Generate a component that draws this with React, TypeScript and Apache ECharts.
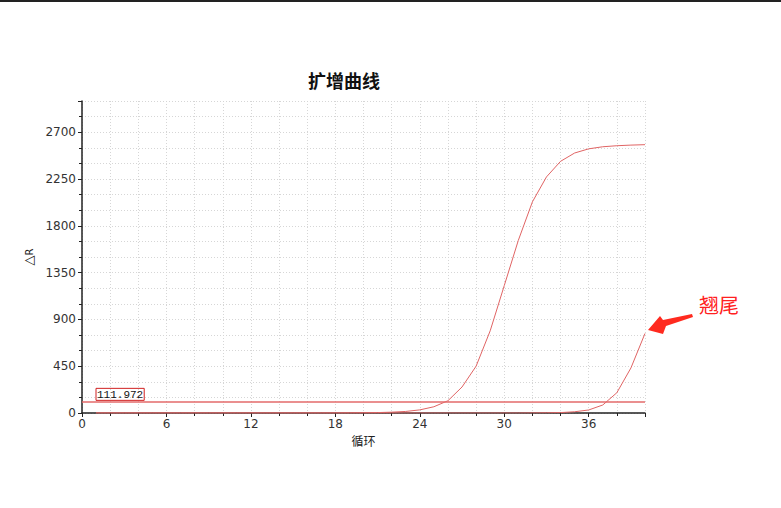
import { useEffect, useRef } from "react";
import * as echarts from "echarts";

const cycles = Array.from({ length: 40 }, (_, i) => i + 1);

const sampleA = [
  0, 0, 0, 0, 0, 0, 0, 0, 0, 0, 0, 0, 0, 0, 0, 0, 0, 0, 1, 2,
  4, 8, 15, 30, 60, 118, 250, 450, 790, 1225, 1660, 2030, 2270, 2420, 2500, 2540, 2560, 2570, 2576, 2580,
];

const sampleB = [
  0, 0, 0, 0, 0, 0, 0, 0, 0, 0, 0, 0, 0, 0, 0, 0, 0, 0, 0, 0,
  0, 0, 0, 0, 0, 0, 0, 0, 0, 0, 0, 1, 2, 4, 12, 29, 77, 195, 433, 765,
];

const threshold = 111.972;

const X_MAX = 40;
const Y_MAX = 3000;

const CURVE = "#e06464";

export default function App() {
  const chartRef = useRef<HTMLDivElement>(null);

  useEffect(() => {
    document.body.style.margin = "0";
    if (!chartRef.current) return;
    const chart = echarts.init(chartRef.current, undefined, { renderer: "svg" });

    const grid = { color: "#d6d6d6", type: [1, 2] as number[], width: 1 };

    chart.setOption({
      animation: false,
      backgroundColor: "#fff",
      title: {
        text: "扩增曲线",
        left: 303,
        top: 66,
        textStyle: {
          fontFamily: "Noto Sans CJK SC",
          fontSize: 18,
          fontWeight: "bold",
          color: "#111",
        },
      },
      grid: { left: 82, right: 136, top: 101, bottom: 95 },
      xAxis: {
        type: "value",
        min: 0,
        max: X_MAX,
        interval: 6,
        name: "循环",
        nameLocation: "middle",
        nameGap: 19,
        nameTextStyle: { fontFamily: "Noto Sans CJK SC", fontSize: 12, color: "#222" },
        axisLine: { lineStyle: { color: "#222", width: 1.5 } },
        axisTick: { length: 4, lineStyle: { color: "#222" } },
        minorTick: { show: true, splitNumber: 3, length: 3, lineStyle: { color: "#222" } },
        axisLabel: {
          color: "#333",
          fontSize: 12,
          fontFamily: "DejaVu Sans",
          showMaxLabel: false,
          margin: 5,
          formatter: (v: number) => String(v),
        },
        splitLine: { show: true, lineStyle: grid },
        minorSplitLine: { show: true, lineStyle: grid },
      },
      yAxis: {
        type: "value",
        min: 0,
        max: Y_MAX,
        interval: 450,
        name: "{a|△}{b|R}",
        nameLocation: "middle",
        nameGap: 36,
        nameTextStyle: {
          rich: {
            a: { fontFamily: "DejaVu Sans", fontSize: 13, color: "#222" },
            b: { fontFamily: "DejaVu Sans", fontSize: 10, color: "#222", verticalAlign: "bottom" },
          },
        },
        axisLine: { show: true, lineStyle: { color: "#222", width: 1.5 } },
        axisTick: { show: true, length: 4, lineStyle: { color: "#222" } },
        minorTick: { show: true, splitNumber: 3, length: 3, lineStyle: { color: "#222" } },
        axisLabel: {
          color: "#333",
          fontSize: 12,
          fontFamily: "DejaVu Sans",
          showMaxLabel: false,
          margin: 6,
          formatter: (v: number) => String(v),
        },
        splitLine: { show: true, lineStyle: grid },
        minorSplitLine: { show: true, lineStyle: grid },
      },
      series: [
        {
          name: "A",
          type: "line",
          data: cycles.map((c, i) => [c, sampleA[i]]),
          showSymbol: false,
          lineStyle: { color: CURVE, width: 1 },
          itemStyle: { color: CURVE },
          markLine: {
            symbol: "none",
            silent: true,
            data: [{ yAxis: threshold }],
            lineStyle: { color: "#e36a6a", width: 1.5, type: "solid" },
            label: {
              show: true,
              position: "insideStartTop",
              formatter: String(threshold),
              fontFamily: "Liberation Mono",
              fontSize: 11,
              color: "#111",
              borderColor: "#d02020",
              borderWidth: 1,
              padding: [1, 1, 0, 1],
              distance: [14, 1],
            },
          },
        },
        {
          name: "B",
          type: "line",
          data: cycles.map((c, i) => [c, sampleB[i]]),
          showSymbol: false,
          lineStyle: { color: CURVE, width: 1 },
          itemStyle: { color: CURVE },
        },
      ],
      graphic: [
        {
          type: "rect",
          left: 0,
          top: 0,
          shape: { width: 781, height: 2 },
          style: { fill: "#222" },
        },
        {
          type: "polygon",
          shape: {
            points: [
              [648, 330],
              [660, 316],
              [663, 320],
              [692, 314],
              [693, 317],
              [666, 326],
              [663, 334],
            ],
          },
          style: { fill: "#ff2a1f" },
        },
        {
          type: "text",
          left: 699,
          top: 294,
          style: {
            text: "翘尾",
            fontFamily: "Noto Sans CJK SC",
            fontSize: 20,
            fill: "#ff2020",
            textShadowColor: "rgba(255,80,200,0.6)",
            textShadowOffsetX: -1,
          },
        },
      ],
    });

    return () => chart.dispose();
  }, []);

  return <div ref={chartRef} style={{ width: 781, height: 508 }} />;
}
